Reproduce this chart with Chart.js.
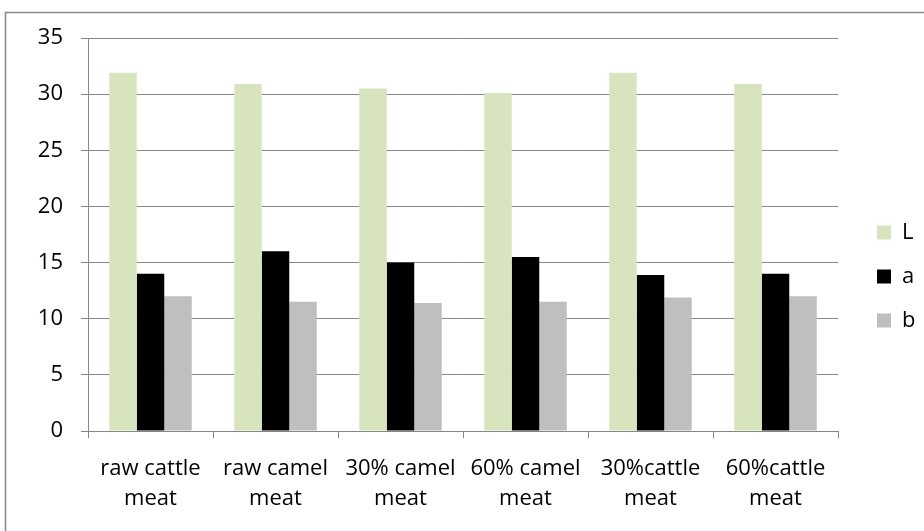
<!DOCTYPE html>
<html>
<head>
<meta charset="utf-8">
<style>
  html, body { margin: 0; padding: 0; background: #ffffff; }
  #wrap { width: 924px; height: 531px; }
</style>
<script src="https://cdn.jsdelivr.net/npm/chart.js@4/dist/chart.umd.min.js"></script>
</head>
<body>
<div id="wrap"><canvas id="c" width="924" height="531"></canvas></div>
<script>
// Colour parameters of meat samples
const categories = [
  ['raw cattle', 'meat'],
  ['raw camel', 'meat'],
  ['30% camel', 'meat'],
  ['60% camel', 'meat'],
  ['30%cattle', 'meat'],
  ['60%cattle', 'meat']
];
const seriesNames = ['L', 'a', 'b'];
const valuesL = [31.9, 30.9, 30.5, 30.1, 31.9, 30.9];
const valuesA = [14.0, 16.0, 15.0, 15.5, 13.9, 14.0];
const valuesB = [12.0, 11.5, 11.4, 11.5, 11.9, 12.0];
const yTicks = [0, 5, 10, 15, 20, 25, 30, 35];

const FONT = { family: "'Open Sans', 'Noto Sans', sans-serif", size: 22, lineHeight: 1.36 };
const AXIS_GREY = '#868686';

// White page with the thin outer frame along the top and left edges
const frame = {
  id: 'frame',
  beforeDraw(chart) {
    const ctx = chart.ctx;
    ctx.save();
    ctx.fillStyle = '#ffffff';
    ctx.fillRect(0, 0, chart.width, chart.height);
    ctx.strokeStyle = '#8c8c8c';
    ctx.lineWidth = 1.6;
    ctx.beginPath();
    ctx.moveTo(5.5, chart.height + 2);
    ctx.lineTo(5.5, 12.5);
    ctx.lineTo(chart.width + 2, 12.5);
    ctx.stroke();
    ctx.restore();
  }
};

// Keeps the legend column a fixed width and nudges its items into place
const LEGEND_WIDTH = 86;
const LEGEND_SHIFT_X = 17;
const LEGEND_SHIFT_Y = -8;
const legendPlacement = {
  id: 'legendPlacement',
  beforeUpdate(chart) {
    const lg = chart.legend;
    if (lg && !lg.__fixedWidth) {
      const fit = lg.fit.bind(lg);
      lg.fit = function () { fit(); this.width = LEGEND_WIDTH; };
      lg.__fixedWidth = true;
    }
  },
  afterLayout(chart) {
    const lg = chart.legend;
    if (!lg) return;
    lg.left += LEGEND_SHIFT_X;
    lg.right += LEGEND_SHIFT_X;
    lg.top += LEGEND_SHIFT_Y;
    lg.bottom += LEGEND_SHIFT_Y;
  }
};

new Chart(document.getElementById('c'), {
  type: 'bar',
  data: {
    labels: categories,
    datasets: [
      { label: seriesNames[0], data: valuesL, backgroundColor: '#D7E4BD' },
      { label: seriesNames[1], data: valuesA, backgroundColor: '#000000' },
      { label: seriesNames[2], data: valuesB, backgroundColor: '#BFBFBF' }
    ]
  },
  options: {
    responsive: false,
    animation: false,
    devicePixelRatio: 1,
    layout: { padding: { top: 38, left: 0, right: 0, bottom: 0 } },
    datasets: {
      bar: { categoryPercentage: 0.66, barPercentage: 1.0, borderWidth: 0 }
    },
    plugins: {
      legend: {
        position: 'right',
        labels: {
          font: FONT,
          color: '#000000',
          boxWidth: 14,
          boxHeight: 14,
          padding: 22
        }
      },
      tooltip: { enabled: false },
      title: { display: false }
    },
    scales: {
      x: {
        grid: {
          offset: true,
          drawOnChartArea: false,
          drawTicks: true,
          tickLength: 7,
          color: AXIS_GREY,
          lineWidth: 1
        },
        border: { display: true, color: AXIS_GREY, width: 1 },
        ticks: {
          font: FONT,
          color: '#000000',
          padding: 16,
          maxRotation: 0,
          autoSkip: false
        },
        afterFit(scale) { scale.height = 100; }
      },
      y: {
        min: 0,
        max: 35,
        afterBuildTicks(scale) { scale.ticks = yTicks.map(v => ({ value: v })); },
        grid: {
          color: AXIS_GREY,
          lineWidth: 1,
          drawTicks: true,
          tickLength: 7
        },
        border: { display: true, color: AXIS_GREY, width: 1 },
        ticks: {
          font: FONT,
          color: '#000000',
          padding: 18
        },
        afterFit(scale) { scale.width = 88; }
      }
    }
  },
  plugins: [frame, legendPlacement]
});
</script>
</body>
</html>
